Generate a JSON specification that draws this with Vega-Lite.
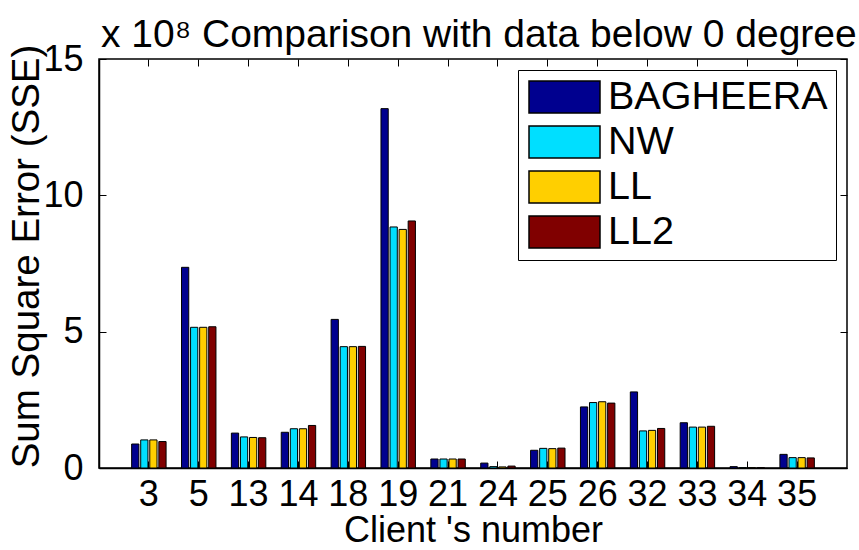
{
  "$schema": "https://vega.github.io/schema/vega-lite/v6.json",
  "width": 748,
  "height": 409,
  "autosize": {"type": "none"},
  "padding": {"left": 99, "top": 59, "right": 12, "bottom": 82},
  "background": "white",
  "title": {
    "text": "x 10⁸ Comparison with data below 0 degree",
    "anchor": "start",
    "frame": "group",
    "fontSize": 39,
    "fontWeight": "normal",
    "font": "Liberation Sans",
    "color": "black",
    "offset": -14,
    "dx": 2
  },
  "config": {
    "view": {"stroke": "black", "strokeWidth": 1.5},
    "axis": {
      "grid": false,
      "labelFont": "Liberation Sans",
      "titleFont": "Liberation Sans",
      "labelColor": "black",
      "titleColor": "black",
      "labelFontSize": 36,
      "titleFontSize": 37,
      "titleFontWeight": "normal",
      "tickColor": "black",
      "domainColor": "black",
      "domainWidth": 1.5,
      "tickWidth": 1,
      "tickSize": -7
    },
    "legend": {
      "orient": "top-right",
      "offset": 11,
      "strokeColor": "black",
      "fillColor": "white",
      "padding": 8,
      "labelFont": "Liberation Sans",
      "labelFontSize": 39.5,
      "labelColor": "black",
      "labelLimit": 400,
      "symbolType": "M-1,-0.45H1V0.45H-1Z",
      "symbolSize": 5041,
      "symbolStrokeColor": "black",
      "symbolStrokeWidth": 1.5,
      "symbolOpacity": 1,
      "clipHeight": 38,
      "rowPadding": 5,
      "labelOffset": 7,
      "symbolOffset": 2
    }
  },
  "data": {
    "values": [
      {"client": "3", "series": "BAGHEERA", "v": 0.88},
      {"client": "3", "series": "NW", "v": 1.03},
      {"client": "3", "series": "LL", "v": 1.03},
      {"client": "3", "series": "LL2", "v": 0.97},
      {"client": "5", "series": "BAGHEERA", "v": 7.36},
      {"client": "5", "series": "NW", "v": 5.16},
      {"client": "5", "series": "LL", "v": 5.16},
      {"client": "5", "series": "LL2", "v": 5.18},
      {"client": "13", "series": "BAGHEERA", "v": 1.28},
      {"client": "13", "series": "NW", "v": 1.14},
      {"client": "13", "series": "LL", "v": 1.12},
      {"client": "13", "series": "LL2", "v": 1.11},
      {"client": "14", "series": "BAGHEERA", "v": 1.31},
      {"client": "14", "series": "NW", "v": 1.44},
      {"client": "14", "series": "LL", "v": 1.44},
      {"client": "14", "series": "LL2", "v": 1.56},
      {"client": "18", "series": "BAGHEERA", "v": 5.45},
      {"client": "18", "series": "NW", "v": 4.45},
      {"client": "18", "series": "LL", "v": 4.45},
      {"client": "18", "series": "LL2", "v": 4.46},
      {"client": "19", "series": "BAGHEERA", "v": 13.18},
      {"client": "19", "series": "NW", "v": 8.84},
      {"client": "19", "series": "LL", "v": 8.75},
      {"client": "19", "series": "LL2", "v": 9.06},
      {"client": "21", "series": "BAGHEERA", "v": 0.33},
      {"client": "21", "series": "NW", "v": 0.33},
      {"client": "21", "series": "LL", "v": 0.33},
      {"client": "21", "series": "LL2", "v": 0.33},
      {"client": "24", "series": "BAGHEERA", "v": 0.18},
      {"client": "24", "series": "NW", "v": 0.05},
      {"client": "24", "series": "LL", "v": 0.04},
      {"client": "24", "series": "LL2", "v": 0.07},
      {"client": "25", "series": "BAGHEERA", "v": 0.65},
      {"client": "25", "series": "NW", "v": 0.72},
      {"client": "25", "series": "LL", "v": 0.71},
      {"client": "25", "series": "LL2", "v": 0.73},
      {"client": "26", "series": "BAGHEERA", "v": 2.24},
      {"client": "26", "series": "NW", "v": 2.4},
      {"client": "26", "series": "LL", "v": 2.43},
      {"client": "26", "series": "LL2", "v": 2.38},
      {"client": "32", "series": "BAGHEERA", "v": 2.79},
      {"client": "32", "series": "NW", "v": 1.36},
      {"client": "32", "series": "LL", "v": 1.38},
      {"client": "32", "series": "LL2", "v": 1.45},
      {"client": "33", "series": "BAGHEERA", "v": 1.66},
      {"client": "33", "series": "NW", "v": 1.5},
      {"client": "33", "series": "LL", "v": 1.5},
      {"client": "33", "series": "LL2", "v": 1.53},
      {"client": "34", "series": "BAGHEERA", "v": 0.05},
      {"client": "34", "series": "NW", "v": 0.01},
      {"client": "34", "series": "LL", "v": 0.01},
      {"client": "34", "series": "LL2", "v": 0.01},
      {"client": "35", "series": "BAGHEERA", "v": 0.5},
      {"client": "35", "series": "NW", "v": 0.38},
      {"client": "35", "series": "LL", "v": 0.38},
      {"client": "35", "series": "LL2", "v": 0.37}
    ]
  },
  "layer": [
    {
      "mark": {"type": "bar", "stroke": "black", "strokeWidth": 1},
      "encoding": {
        "x": {
          "field": "client",
          "type": "nominal",
          "sort": null,
          "scale": {"paddingInner": 0.273, "paddingOuter": 0.6365},
          "axis": {
            "orient": "bottom",
            "labelAngle": 0,
            "labelPadding": 16,
            "title": "Client 's number",
            "titleFontSize": 36,
            "titlePadding": 1
          }
        },
        "xOffset": {
          "field": "series",
          "type": "nominal",
          "sort": ["BAGHEERA", "NW", "LL", "LL2"],
          "scale": {"paddingInner": 0.2, "paddingOuter": 0.1}
        },
        "y": {
          "field": "v",
          "type": "quantitative",
          "scale": {"domain": [0, 15], "nice": false},
          "axis": {
            "orient": "left",
            "values": [0, 5, 10, 15],
            "labelPadding": 23,
            "title": "Sum Square Error (SSE)",
            "titleFontSize": 38.5,
            "titlePadding": -4,
            "titleY": 197
          }
        },
        "color": {
          "field": "series",
          "type": "nominal",
          "sort": ["BAGHEERA", "NW", "LL", "LL2"],
          "scale": {
            "domain": ["BAGHEERA", "NW", "LL", "LL2"],
            "range": ["#00008F", "#00DFFF", "#FFCF00", "#800000"]
          },
          "legend": {"title": null}
        }
      }
    },
    {
      "mark": {"type": "point", "opacity": 0},
      "encoding": {
        "x": {
          "field": "client",
          "type": "nominal",
          "sort": null,
          "axis": {"orient": "top", "labels": false, "title": null, "domain": false}
        },
        "y": {
          "field": "v",
          "type": "quantitative",
          "axis": {"orient": "right", "labels": false, "title": null, "values": [0, 5, 10, 15], "domain": false}
        }
      }
    }
  ],
  "resolve": {"axis": {"x": "independent", "y": "independent"}}
}
